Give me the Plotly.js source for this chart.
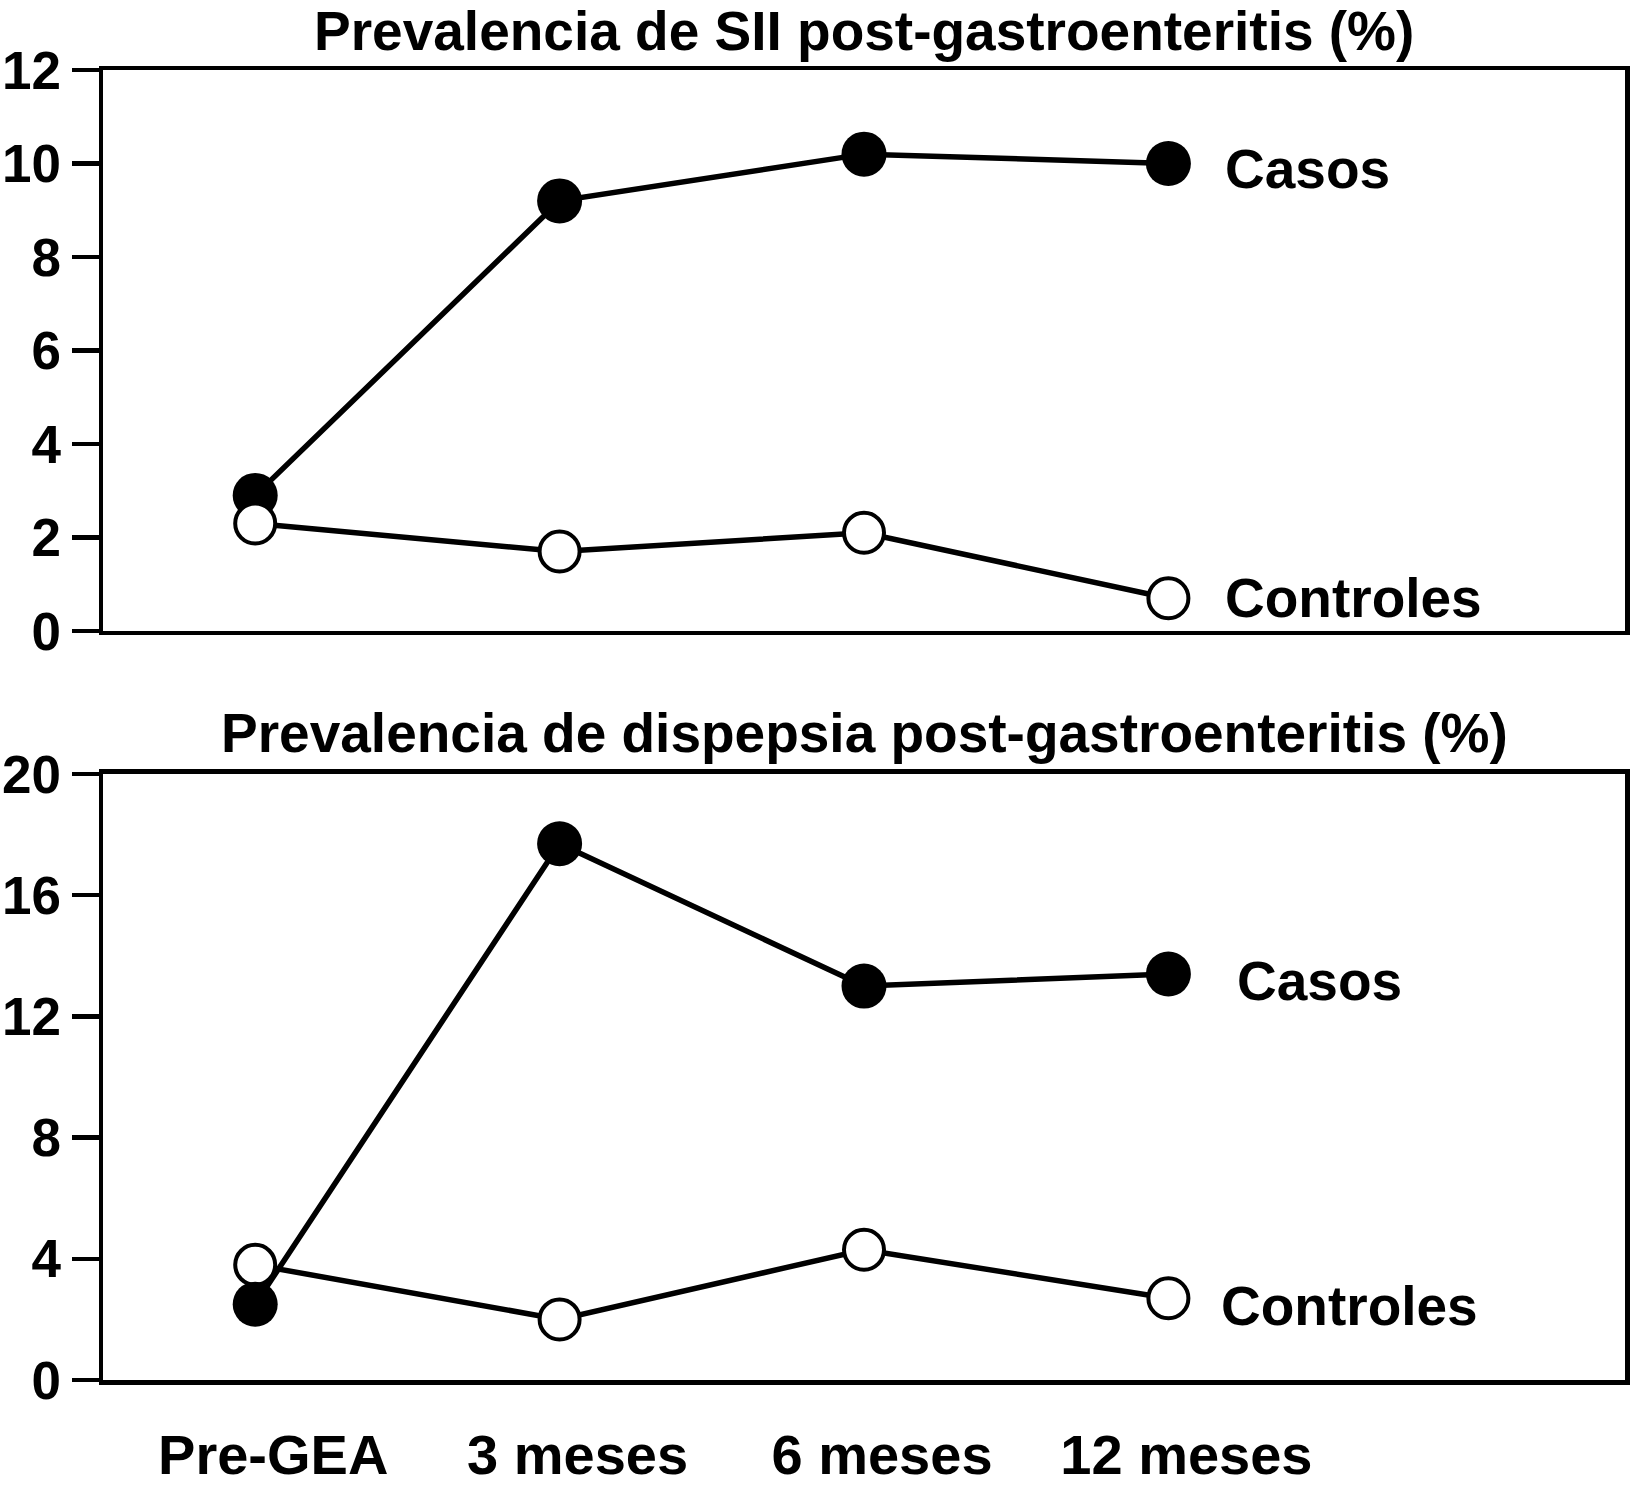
<!DOCTYPE html>
<html>
<head>
<meta charset="utf-8">
<script src="https://cdn.plot.ly/plotly-3.0.1.min.js"></script>
<style>
  body { margin: 0; background: #fff; }
  #chart { width: 1632px; height: 1500px; }
</style>
</head>
<body>
<div id="chart"></div>
<script>
// momentos del seguimiento
var periodos = ['Pre-GEA', '3 meses', '6 meses', '12 meses'];

// SII post-gastroenteritis (%)
var siiCasos = [2.9, 9.2, 10.2, 10.0];
var siiControles = [2.3, 1.7, 2.1, 0.7];

// dispepsia post-gastroenteritis (%)
var dispCasos = [2.5, 17.7, 13.0, 13.4];
var dispControles = [3.8, 2.0, 4.3, 2.7];

var siiTicks = [0, 2, 4, 6, 8, 10, 12];
var dispTicks = [0, 4, 8, 12, 16, 20];

var FONT = 'Liberation Sans, Arial, Helvetica, sans-serif';

function serie(y, filled, xa, ya) {
  return {
    x: periodos, y: y, xaxis: xa, yaxis: ya,
    type: 'scatter', mode: 'lines+markers',
    line: {color: '#000', width: 5.5},
    marker: filled
      ? {size: 45, color: '#000', line: {width: 0}}
      : {size: 40, color: '#fff', line: {color: '#000', width: 4}},
    cliponaxis: false, showlegend: false, hoverinfo: 'skip'
  };
}

var traces = [
  serie(siiCasos, true, 'x', 'y'),
  serie(siiControles, false, 'x', 'y'),
  serie(dispControles, false, 'x2', 'y2'),
  serie(dispCasos, true, 'x2', 'y2')
];

var tickFont = {family: FONT, size: 53, color: '#000', weight: 'bold'};
var catFont = {family: FONT, size: 56, color: '#000', weight: 'bold'};
var labelFont = {family: FONT, size: 55, color: '#000', weight: 'bold'};

var xBase = {
  type: 'category', range: [-0.5, 4.5],
  showline: true, mirror: true, linecolor: '#000', linewidth: 4.5,
  showgrid: false, zeroline: false, ticks: '', fixedrange: true
};
var yBase = {
  showline: true, mirror: true, linecolor: '#000', linewidth: 4.5,
  showgrid: false, zeroline: false,
  ticks: 'outside', ticklen: 27, tickwidth: 4.5, tickcolor: '#000',
  tickfont: tickFont, fixedrange: true
};

var layout = {
  width: 1632, height: 1500,
  margin: {l: 103, r: 7, t: 70, b: 120},
  paper_bgcolor: '#fff', plot_bgcolor: '#fff',
  font: {family: FONT, color: '#000'},
  xaxis: Object.assign({}, xBase, {anchor: 'y', showticklabels: false}),
  yaxis: Object.assign({}, yBase, {domain: [0.5718, 1], range: [0, 12], tickvals: siiTicks}),
  xaxis2: Object.assign({}, xBase, {
    anchor: 'y2', showticklabels: true, tickfont: catFont,
    ticklabelshift: 18, ticklabelstandoff: 22
  }),
  yaxis2: Object.assign({}, yBase, {domain: [0, 0.4626], range: [0, 20], tickvals: dispTicks}),
  annotations: [
    {text: 'Prevalencia de SII post-gastroenteritis (%)', xref: 'paper', yref: 'paper',
     x: 0.5, y: 1.03, xanchor: 'center', yanchor: 'middle', showarrow: false, font: labelFont},
    {text: 'Prevalencia de dispepsia post-gastroenteritis (%)', xref: 'paper', yref: 'paper',
     x: 0.5, y: 0.494, xanchor: 'center', yanchor: 'middle', showarrow: false, font: labelFont},
    {text: 'Casos', xref: 'x', yref: 'y', x: periodos[3], y: siiCasos[3],
     xanchor: 'left', yanchor: 'middle', xshift: 55, yshift: -6, showarrow: false, font: labelFont},
    {text: 'Controles', xref: 'x', yref: 'y', x: periodos[3], y: siiControles[3],
     xanchor: 'left', yanchor: 'middle', xshift: 55, yshift: 0, showarrow: false, font: labelFont},
    {text: 'Casos', xref: 'x2', yref: 'y2', x: periodos[3], y: dispCasos[3],
     xanchor: 'left', yanchor: 'middle', xshift: 67, yshift: -7, showarrow: false, font: labelFont},
    {text: 'Controles', xref: 'x2', yref: 'y2', x: periodos[3], y: dispControles[3],
     xanchor: 'left', yanchor: 'middle', xshift: 51, yshift: -8, showarrow: false, font: labelFont}
  ]
};

Plotly.newPlot('chart', traces, layout, {staticPlot: true});
</script>
</body>
</html>
